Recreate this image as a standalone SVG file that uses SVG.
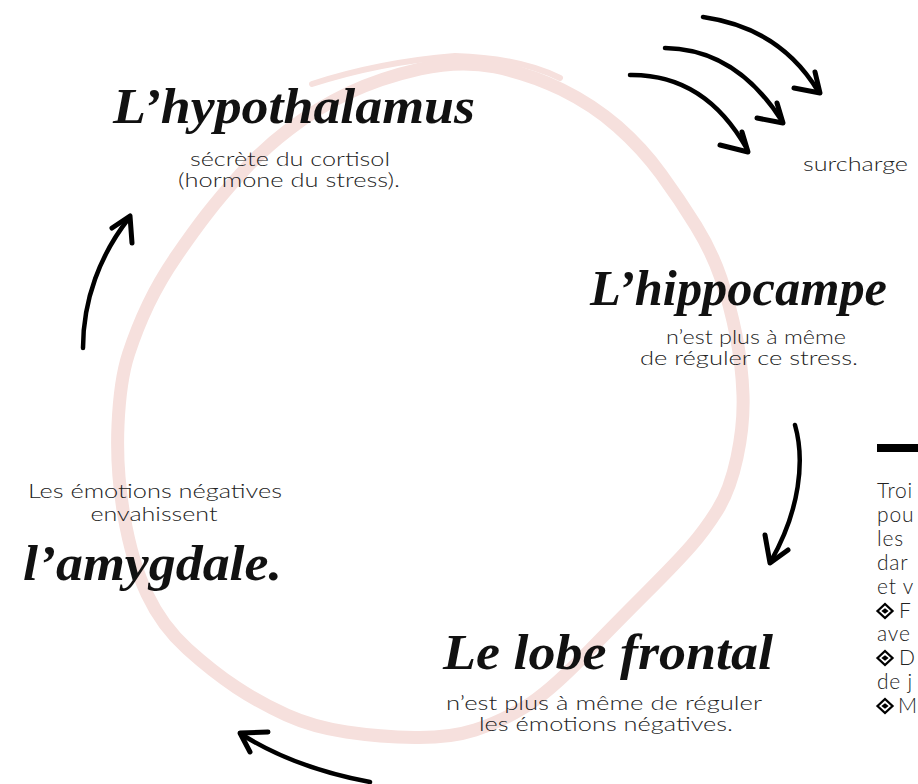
<svg xmlns="http://www.w3.org/2000/svg" xmlns:xlink="http://www.w3.org/1999/xlink" width="918" height="784" viewBox="0 0 918 784">
<defs>
<style>
.ring{fill:none;stroke:#f6e0dd;stroke-linecap:round;stroke-linejoin:round}
.title{font-family:"Liberation Serif","DejaVu Serif",serif;font-style:italic;font-weight:bold;font-size:50px;fill:#111}
.body{font-family:Lato,"Open Sans","Liberation Sans",sans-serif;font-weight:300;font-size:19px;fill:#222;text-anchor:middle}
.side{font-family:Lato,"Open Sans","Liberation Sans",sans-serif;font-weight:300;font-size:21px;letter-spacing:0.8px;fill:#222}
.shaft{fill:none;stroke:#000;stroke-width:4.5;stroke-linecap:round}
.head{fill:none;stroke:#000;stroke-width:5;stroke-linecap:round;stroke-linejoin:round}
</style>
<g id="bullet">
<polygon points="-7.5,0 0,-7 7.5,0 0,7" fill="none" stroke="#000" stroke-width="2.3" stroke-linejoin="miter"/>
<polygon points="-3.6,0 0,-2.8 3.6,0 0,2.8" fill="#000"/>
</g>
</defs>
<rect width="918" height="784" fill="#fff"/>
<g id="ring">
<path class="ring" stroke-width="13" d="M 495,67 Q 530,74 561.5,89.5 Q 593,105 617.5,126.5 Q 642,148 661,174 Q 680,200 696,226 Q 712,252 721,278.5 Q 730,305 736,335 Q 742,365 743,395 Q 744,425 737,457.5 Q 730,490 717.5,510 Q 705,530 691,546 Q 677,562 647,592 Q 617,622 582.5,657.5 Q 548,693 524,707.5 Q 500,722 475,730 Q 450,738 415,737.5 Q 380,737 346.5,732 Q 313,727 286.5,715 Q 260,703 236.5,687.5 Q 213,672 187.5,649 Q 162,626 147,594 Q 132,562 124,516 Q 116,470 118,425 Q 120,380 128.5,354 Q 137,328 148.5,304 Q 160,280 176.5,256 Q 193,232 206.5,214.5 Q 220,197 241,173.5 Q 262,150 289.5,129 Q 317,108 348.5,93 Q 380,78 420,69 Q 460,60 495,67 Z"/>
<path class="ring" stroke-width="6" d="M 312,84 Q 380,62 455,56 Q 520,58 560,78"/>
</g>
<g id="connectors">
<path class="shaft" d="M 83,348 C 83,300 100,255 129,218"/>
<polyline class="head" points="112,228 130,216 132,243"/>
<path class="shaft" d="M 703,17 Q 780,28 818,91"/>
<polyline class="head" points="794,88 820,93 815,72"/>
<path class="shaft" d="M 665,48 Q 736,49 782,121"/>
<polyline class="head" points="757,118 783,123 777,103"/>
<path class="shaft" d="M 630,75 Q 705,74 747,149"/>
<polyline class="head" points="720,145 748,152 742,132"/>
<path class="shaft" d="M 795,425 C 805,460 800,510 771,561"/>
<polyline class="head" points="765,535 770,563 788,550"/>
<path class="shaft" d="M 370,782 Q 295,768 241,734"/>
<polyline class="head" points="268,732 240,733 250,752"/>
</g>
<g id="hypothalamus">
<text class="title" x="113" y="123" textLength="362" lengthAdjust="spacingAndGlyphs">L’hypothalamus</text>
<text class="body" x="290" y="166" textLength="200" lengthAdjust="spacingAndGlyphs">sécrète du cortisol</text>
<text class="body" x="289" y="187" textLength="222" lengthAdjust="spacingAndGlyphs">(hormone du stress).</text>
</g>
<g id="surcharge">
<text class="body" style="text-anchor:start" x="803" y="171" textLength="105" lengthAdjust="spacingAndGlyphs">surcharge</text>
</g>
<g id="hippocampe">
<text class="title" x="590" y="305" textLength="297" lengthAdjust="spacingAndGlyphs">L’hippocampe</text>
<text class="body" x="756" y="344" textLength="180" lengthAdjust="spacingAndGlyphs">n’est plus à même</text>
<text class="body" x="749" y="365" textLength="218" lengthAdjust="spacingAndGlyphs">de réguler ce stress.</text>
</g>
<g id="amygdale">
<text class="body" x="155" y="498" textLength="254" lengthAdjust="spacingAndGlyphs">Les émotions négatives</text>
<text class="body" x="154" y="521" textLength="127" lengthAdjust="spacingAndGlyphs">envahissent</text>
<text class="title" x="23" y="580" textLength="259" lengthAdjust="spacingAndGlyphs">l’amygdale.</text>
</g>
<g id="lobe-frontal">
<text class="title" x="443" y="669" textLength="330" lengthAdjust="spacingAndGlyphs">Le lobe frontal</text>
<text class="body" x="604" y="710" textLength="316" lengthAdjust="spacingAndGlyphs">n’est plus à même de réguler</text>
<text class="body" x="606" y="731" textLength="254" lengthAdjust="spacingAndGlyphs">les émotions négatives.</text>
</g>
<g id="tips">
<rect x="877" y="444" width="41" height="8" fill="#000"/>
<text class="side" x="877" y="498">Troi</text>
<text class="side" x="877" y="522">pou</text>
<text class="side" x="877" y="546">les</text>
<text class="side" x="877" y="570">dar</text>
<text class="side" x="877" y="594">et v</text>
<use xlink:href="#bullet" href="#bullet" x="885" y="611"/>
<text class="side" x="899" y="618">F</text>
<text class="side" x="877" y="641">ave</text>
<use xlink:href="#bullet" href="#bullet" x="885" y="658"/>
<text class="side" x="899" y="665">D</text>
<text class="side" x="877" y="689">de j</text>
<use xlink:href="#bullet" href="#bullet" x="885" y="706"/>
<text class="side" x="898" y="713" letter-spacing="0">M</text>
</g>
</svg>
